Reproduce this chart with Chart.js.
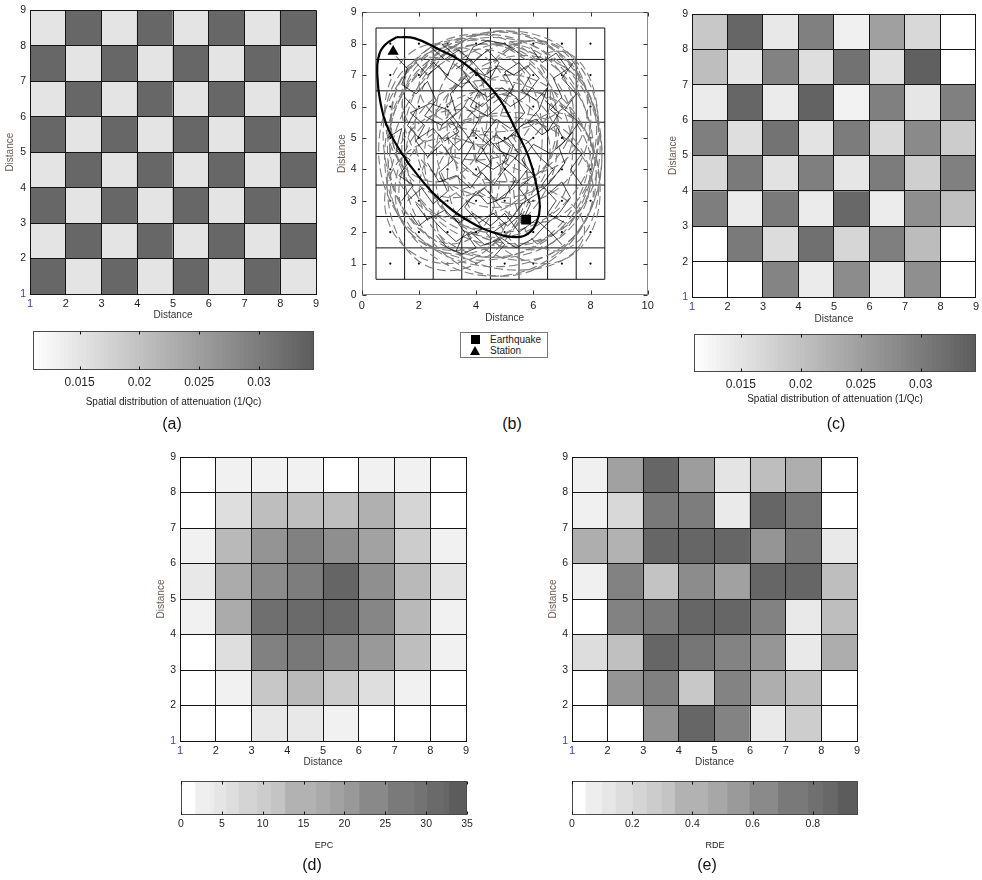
<!DOCTYPE html>
<html>
<head>
<meta charset="utf-8">
<title>Attenuation tomography: checkerboard test, ray coverage, EPC and RDE</title>
<script src="https://cdn.jsdelivr.net/npm/chart.js@4.4.1/dist/chart.umd.min.js"></script>
<style>
  html, body { margin: 0; padding: 0; background: #fff; }
  #fig { position: relative; width: 982px; height: 880px; overflow: hidden;
         font-family: "Liberation Sans", Arial, sans-serif; }
  #fig canvas { position: absolute; }
  .tag { position: absolute; font-size: 16px; color: #111; transform: translate(-50%, -50%); white-space: nowrap; }
  #legendB { position: absolute; left: 460px; top: 332px; width: 86px; height: 24px;
             border: 1px solid #777; background: #fff; font-size: 10px; color: #222; }
  #legendB .sq { position: absolute; left: 10px; top: 2px; width: 9px; height: 9px; background: #000; }
  #legendB .tri { position: absolute; left: 9px; top: 13px; width: 0; height: 0;
                  border-left: 5.5px solid transparent; border-right: 5.5px solid transparent; border-bottom: 9px solid #000; }
  #legendB .lt { position: absolute; left: 29px; line-height: 12px; }
</style>
</head>
<body>
<div id="fig">
  <canvas id="cvA" width="330" height="325" style="left:0px;top:0px"></canvas>
  <canvas id="cvB" width="330" height="328" style="left:330px;top:0px"></canvas>
  <canvas id="cvC" width="322" height="328" style="left:660px;top:0px"></canvas>
  <canvas id="cbA" width="330" height="95" style="left:0px;top:320px"></canvas>
  <canvas id="cbC" width="322" height="95" style="left:660px;top:320px"></canvas>
  <canvas id="cvD" width="330" height="330" style="left:150px;top:445px"></canvas>
  <canvas id="cvE" width="330" height="330" style="left:545px;top:445px"></canvas>
  <canvas id="cbD" width="340" height="90" style="left:150px;top:770px"></canvas>
  <canvas id="cbE" width="340" height="90" style="left:545px;top:770px"></canvas>

  <div id="legendB">
    <span class="sq"></span><span class="lt" style="top:1px">Earthquake</span>
    <span class="tri"></span><span class="lt" style="top:12px">Station</span>
  </div>

  <div class="tag" style="left:172px;top:424px">(a)</div>
  <div class="tag" style="left:512px;top:424px">(b)</div>
  <div class="tag" style="left:836px;top:424px">(c)</div>
  <div class="tag" style="left:312px;top:865px">(d)</div>
  <div class="tag" style="left:707px;top:865px">(e)</div>
</div>

<script>
// ---------------------------------------------------------------------------
// Data. Grid rows are listed from the top row (Distance 8-9) down to the
// bottom row (Distance 1-2); columns run from Distance 1-2 to 8-9.
// ---------------------------------------------------------------------------
const distanceTicks = [1, 2, 3, 4, 5, 6, 7, 8, 9];

// (a) checkerboard input model, 1/Qc
const checkerRows = [
  [0.015, 0.033, 0.015, 0.033, 0.015, 0.033, 0.015, 0.033],
  [0.033, 0.015, 0.033, 0.015, 0.033, 0.015, 0.033, 0.015],
  [0.015, 0.033, 0.015, 0.033, 0.015, 0.033, 0.015, 0.033],
  [0.033, 0.015, 0.033, 0.015, 0.033, 0.015, 0.033, 0.015],
  [0.015, 0.033, 0.015, 0.033, 0.015, 0.033, 0.015, 0.033],
  [0.033, 0.015, 0.033, 0.015, 0.033, 0.015, 0.033, 0.015],
  [0.015, 0.033, 0.015, 0.033, 0.015, 0.033, 0.015, 0.033],
  [0.033, 0.015, 0.033, 0.015, 0.033, 0.015, 0.033, 0.015]
];

// (c) recovered attenuation, 1/Qc
const recoveredRows = [
  [0.0190, 0.0332, 0.0144, 0.0294, 0.0133, 0.0248, 0.0167, 0.0111],
  [0.0205, 0.0147, 0.0291, 0.0159, 0.0314, 0.0156, 0.0340, 0.0111],
  [0.0140, 0.0332, 0.0140, 0.0336, 0.0130, 0.0294, 0.0147, 0.0294],
  [0.0296, 0.0159, 0.0313, 0.0151, 0.0300, 0.0166, 0.0280, 0.0185],
  [0.0167, 0.0303, 0.0153, 0.0296, 0.0147, 0.0300, 0.0180, 0.0294],
  [0.0297, 0.0140, 0.0303, 0.0140, 0.0329, 0.0138, 0.0273, 0.0202],
  [0.0111, 0.0303, 0.0161, 0.0317, 0.0170, 0.0296, 0.0208, 0.0111],
  [0.0111, 0.0111, 0.0288, 0.0140, 0.0277, 0.0140, 0.0273, 0.0111]
];

// (d) EPC per cell
const epcRows = [
  [0,  3,  3,  3,  0,  3,  3, 0],
  [0,  7, 14, 14, 14, 17,  9, 0],
  [3, 15, 23, 27, 24, 20, 11, 3],
  [5, 18, 25, 28, 33, 24, 15, 6],
  [3, 18, 31, 32, 32, 26, 15, 3],
  [0,  7, 27, 29, 26, 22, 14, 3],
  [0,  3, 12, 15, 11,  7,  3, 0],
  [0,  0,  5,  5,  3,  0,  0, 0]
];

// (e) RDE per cell
const rdeRows = [
  [0.09, 0.55, 0.89, 0.57, 0.16, 0.38, 0.47, 0.00],
  [0.09, 0.23, 0.78, 0.76, 0.12, 0.89, 0.80, 0.00],
  [0.47, 0.45, 0.89, 0.89, 0.89, 0.62, 0.79, 0.13],
  [0.09, 0.73, 0.35, 0.67, 0.55, 0.89, 0.89, 0.38],
  [0.00, 0.73, 0.78, 0.89, 0.89, 0.73, 0.13, 0.38],
  [0.20, 0.37, 0.89, 0.80, 0.72, 0.61, 0.13, 0.48],
  [0.00, 0.62, 0.74, 0.32, 0.72, 0.47, 0.37, 0.00],
  [0.00, 0.00, 0.64, 0.89, 0.72, 0.13, 0.29, 0.00]
];

// colour-bar ranges and tick labels
const attenRange = [0.0111, 0.0346];
const attenTicks = [0.015, 0.02, 0.025, 0.03];
const epcRange = [0, 35];
const epcTicks = [0, 5, 10, 15, 20, 25, 30, 35];
const epcBandEdges = [1.7, 3.5, 4.0, 5.5, 7.0, 9.3, 11.0, 12.7, 16.5, 18.2, 19.9, 21.8, 25.3, 28.5, 30.1, 32.1, 32.8, 35];
const rdeRange = [0, 0.95];
const rdeTicks = [0, 0.2, 0.4, 0.6, 0.8];
const rdeBandEdges = [0.044, 0.098, 0.144, 0.20, 0.247, 0.297, 0.341, 0.451, 0.515, 0.589, 0.683, 0.783, 0.833, 0.882, 0.95];

// (b) ray coverage
const coverageXTicks = [0, 2, 4, 6, 8, 10];
const coverageYTicks = [0, 1, 2, 3, 4, 5, 6, 7, 8, 9];
const cellEdges = [0.5, 1.5, 2.5, 3.5, 4.5, 5.5, 6.5, 7.5, 8.5];
const nodePositions = [1, 2, 3, 4, 5, 6, 7, 8];
const station = [{ x: 1.1, y: 7.75 }];
const earthquake = [{ x: 5.75, y: 2.4 }];
// single-scattering ellipse around the station-earthquake pair
const sampleEllipse = [
  [1.22, 8.21], [1.86, 8.17], [2.74, 7.80], [3.50, 7.43], [4.25, 6.85], [4.84, 6.21],
  [5.36, 5.31], [5.83, 4.41], [6.12, 3.45], [6.23, 2.81], [6.12, 2.33], [5.83, 1.96],
  [5.42, 1.84], [4.72, 1.96], [3.79, 2.33], [2.74, 3.03], [2.04, 3.72], [1.40, 4.51],
  [0.87, 5.41], [0.64, 6.21], [0.55, 6.95], [0.58, 7.54], [0.81, 7.96], [1.22, 8.21]
];
// other path ellipses (centre, semi-axes in distance units, tilt in degrees)
const ringCx   = [4.5, 4.8, 4.2, 5.2, 4.0, 5.5, 3.6, 5.0, 4.4, 5.8, 3.2, 4.6, 6.0, 3.0, 4.8, 5.2, 4.6, 2.8, 6.4, 4.2, 5.4, 4.4,
                  4.9, 4.3, 5.1, 3.9, 5.6, 4.7, 4.0, 6.1, 3.4, 5.0, 2.6, 6.8];
const ringCy   = [4.6, 4.2, 5.0, 4.8, 4.0, 5.5, 4.3, 3.5, 5.6, 4.0, 5.5, 4.6, 6.0, 3.0, 6.8, 2.2, 4.4, 4.6, 4.6, 3.6, 5.0, 6.0,
                  4.5, 4.7, 5.0, 5.2, 3.8, 3.3, 6.3, 5.2, 3.6, 5.8, 5.8, 3.6];
const ringRx   = [3.6, 3.3, 3.0, 2.8, 3.2, 2.5, 2.6, 3.0, 3.1, 2.4, 2.2, 2.0, 1.9, 2.2, 2.8, 2.6, 3.8, 2.0, 1.8, 1.6, 1.4, 1.5,
                  3.5, 3.7, 3.2, 2.8, 2.6, 3.4, 2.6, 2.2, 2.4, 2.4, 1.8, 1.5];
const ringRy   = [3.4, 2.6, 3.3, 3.0, 2.2, 2.6, 3.6, 2.3, 2.4, 3.1, 2.4, 1.8, 2.1, 2.0, 1.6, 1.4, 3.8, 3.0, 3.2, 1.5, 1.6, 1.2,
                  3.9, 3.6, 3.4, 2.9, 2.7, 2.4, 2.0, 2.9, 2.3, 2.2, 2.2, 2.2];
const ringTilt = [0, 20, -30, 40, -45, 10, 15, -10, 30, -20, 0, 50, 0, 25, -5, 5, 0, -10, 10, 0, 30, -20,
                  0, 10, -15, 35, 0, 0, 0, 0, 0, 15, 0, 0];
// scattered ray segments
const rayPaths = [
  [[1.2,7.6],[1.6,7.2],[1.4,6.7],[1.9,6.4],[2.3,6.8],[2.6,6.2],[2.2,5.7],[2.8,5.4],[3.3,5.8],[3.1,6.4],[3.6,6.9],[4.1,6.5],[3.8,6.0],[4.4,5.7],[4.9,6.1],[5.3,6.6],[5.0,7.1],[5.5,7.4],[5.9,7.0],[5.6,6.5],[6.1,6.2],[6.5,6.6],[6.2,5.9],[5.8,5.5],[6.3,5.1],[6.8,5.4],[7.1,4.9],[6.6,4.5],[6.0,4.8],[5.6,4.3],[6.0,3.8],[5.5,3.4],[5.9,2.9],[5.7,2.5]],
  [[1.6,3.0],[2.1,3.4],[2.5,2.9],[3.0,3.3],[2.7,3.9],[3.2,4.3],[2.8,4.8],[2.3,4.4],[1.9,4.9],[2.2,5.4],[1.7,5.8],[2.4,6.1],[3.0,5.9],[3.5,5.3],[3.9,4.8],[3.5,4.2],[4.0,3.8],[4.5,4.2],[4.2,4.7],[4.7,5.1],[5.2,4.7],[4.9,4.1],[5.4,3.7],[5.0,3.1],[4.4,2.9],[4.0,3.3],[3.6,2.8],[4.1,2.3],[4.6,2.6],[5.1,2.2],[5.6,2.6]],
  [[2.4,7.9],[2.9,7.5],[3.4,7.8],[3.9,7.4],[4.4,7.8],[4.8,7.4],[4.5,6.9],[4.0,7.1],[3.5,6.6],[3.0,6.9],[2.7,7.3],[2.3,7.0],[1.9,7.4]],
  [[6.5,3.2],[7.0,3.6],[7.3,3.1],[6.9,2.6],[6.4,2.2],[6.0,1.8],[5.4,1.5],[4.9,1.8],[4.3,1.6],[3.8,2.0],[3.3,1.7],[2.8,2.1],[2.4,2.5],[2.0,2.2],[1.7,2.6]],
  [[3.3,1.4],[3.6,2.0],[3.2,2.5],[3.7,3.0],[4.3,3.4],[4.7,3.0],[5.3,3.4],[5.8,4.0],[5.3,4.4],[4.8,4.6],[4.3,5.1],[4.7,5.6],[5.2,5.3],[5.7,5.8],[5.4,6.3],[4.9,6.6],[4.4,6.3],[3.9,6.6],[3.5,7.2],[3.9,7.9],[4.4,8.1],[5.0,8.0],[5.5,7.7]],
  [[7.4,7.4],[7.0,6.9],[7.5,6.4],[7.1,5.9],[7.6,5.5],[7.2,5.0],[7.7,4.5],[7.3,4.0],[7.7,3.5]],
  [[0.9,5.0],[1.4,5.3],[1.2,4.6],[1.7,4.3],[1.3,3.8],[1.8,3.5],[1.4,3.0]],
  [[2.0,6.9],[2.5,7.4],[3.0,7.0],[3.3,7.6],[2.8,8.0]],
  [[5.9,7.9],[6.3,7.4],[6.8,7.7],[7.2,7.2],[6.7,6.9],[7.0,6.3],[6.6,5.9],[7.0,5.6]],
  [[2.3,4.2],[2.7,3.6],[3.3,3.8],[3.8,3.4],[4.2,3.9],[4.6,3.5],[5.0,4.0],[5.5,4.5],[5.1,5.0],[5.6,5.4],[6.1,5.6],[6.5,5.2],[6.9,5.8],[6.4,6.2]],
  [[3.0,5.0],[3.4,4.6],[3.9,5.2],[4.4,4.8],[4.0,4.3],[4.6,4.0],[5.1,4.3],[4.7,4.8],[5.3,5.1],[5.8,4.9],[6.2,4.4],[6.7,4.0],[6.3,3.5],[6.8,3.0],[6.5,2.6],[7.1,2.3]],
  [[1.9,2.9],[2.3,2.4],[2.9,2.7],[3.4,2.3],[3.9,2.6],[4.5,2.2],[5.0,2.6],[5.5,2.0],[6.1,2.4],[6.6,2.0],[7.0,1.6]],
  [[3.7,6.3],[4.2,6.0],[4.7,6.4],[5.2,6.0],[5.7,6.3],[6.2,6.9],[5.8,7.3],[5.3,7.0],[4.8,7.3],[4.3,7.0],[3.8,7.5],[3.3,7.2]],
  [[1.5,6.3],[1.9,5.9],[1.6,5.4],[2.0,5.0],[2.5,5.3],[2.9,4.9],[3.4,5.2],[3.1,5.6],[3.6,6.0],[4.1,5.6],[3.8,5.1]],
  [[4.6,1.2],[5.0,1.6],[4.6,2.0],[5.2,2.4],[5.6,2.9],[6.1,3.2],[6.6,3.6],[7.1,4.2],[6.9,4.7],[7.4,5.2]],
  [[2.6,1.9],[3.0,1.5],[3.5,1.3],[4.0,1.5],[3.7,1.9],[4.2,2.1]]
];

// ---------------------------------------------------------------------------
// Styling helpers
// ---------------------------------------------------------------------------
const FONT = '"Liberation Sans", Arial, sans-serif';
Chart.defaults.font.family = FONT;
Chart.defaults.color = '#222';
Chart.defaults.plugins.legend.display = false;
Chart.defaults.plugins.tooltip.enabled = false;

const LINE = '#151515';
const YTITLE = '#6e5a55';

// reversed gray colormap: white at the low end, dark gray at the high end
function grayOf(v, range) {
  const t = Math.min(1, Math.max(0, (v - range[0]) / (range[1] - range[0])));
  const g = Math.round(255 - t * 163);
  return `rgb(${g},${g},${g})`;
}

const tickColor = c => (c.tick && c.tick.value === 1) ? '#3b3fa6' : '#1e1e1e';

// one floating-bar dataset per grid row
function cellDatasets(rows, range) {
  const n = rows.length;
  return rows.map((row, r) => {
    const y0 = distanceTicks[n - 1 - r];
    return {
      label: 'row ' + y0,
      grouped: false,
      borderWidth: 0,
      barPercentage: 1,
      categoryPercentage: 1,
      data: row.map((v, c) => ({ x: distanceTicks[c] + 0.5, y: [y0, y0 + 1] })),
      backgroundColor: row.map(v => grayOf(v, range))
    };
  });
}

function heatMap(id, rows, range, box) {
  return new Chart(document.getElementById(id), {
    type: 'bar',
    data: { datasets: cellDatasets(rows, range) },
    options: {
      responsive: false, devicePixelRatio: 1, animation: false,
      layout: { padding: { left: 0, top: box.top, right: box.right, bottom: 0 } },
      scales: {
        x: {
          type: 'linear', min: 1, max: 9, offset: false, stacked: true,
          afterBuildTicks: s => { s.ticks = distanceTicks.map(v => ({ value: v })); },
          ticks: { padding: 3, color: tickColor, font: { size: 11 }, maxRotation: 0, autoSkip: false },
          grid: { color: LINE, lineWidth: 1, z: 1, drawTicks: false, offset: false },
          border: { display: true, color: LINE, z: 1 },
          title: { display: true, text: 'Distance', color: '#333', font: { size: 10 },
                   padding: { top: 0, bottom: box.xTitlePad } },
          afterFit: s => { s.height = box.xh; }
        },
        y: {
          type: 'linear', min: 1, max: 9,
          afterBuildTicks: s => { s.ticks = distanceTicks.map(v => ({ value: v })); },
          ticks: { padding: box.yTickPad, color: tickColor, font: { size: 10.5 }, autoSkip: false },
          grid: { color: LINE, lineWidth: 1, z: 1, drawTicks: false },
          border: { display: true, color: LINE, z: 1 },
          title: { display: true, text: 'Distance', color: YTITLE, font: { size: 10 },
                   padding: { top: box.yTitlePad, bottom: 0 } },
          afterFit: s => { s.width = box.left; }
        }
      }
    }
  });
}

// box and short inner tick marks of a colour bar
const cbarFrame = {
  id: 'cbarFrame',
  afterDatasetsDraw(chart) {
    const { ctx, chartArea: a, scales: { x } } = chart;
    ctx.save();
    ctx.strokeStyle = '#4a4a4a';
    ctx.lineWidth = 1;
    const l = Math.round(a.left) + 0.5, t = Math.round(a.top) + 0.5;
    const r = Math.round(a.right) - 0.5, b = Math.round(a.bottom) - 0.5;
    ctx.strokeRect(l, t, r - l, b - t);
    ctx.strokeStyle = '#111';
    x.ticks.forEach(tk => {
      const px = Math.round(x.getPixelForValue(tk.value)) + 0.5;
      ctx.beginPath();
      ctx.moveTo(px, t); ctx.lineTo(px, t + 3);
      ctx.moveTo(px, b); ctx.lineTo(px, b - 3);
      ctx.stroke();
    });
    ctx.restore();
  }
};

// colour bar: each band is a floating bar from the range start to the band's upper edge;
// earlier datasets are painted last, so each band shows between its neighbours' edges
function colorBar(id, range, upperEdges, bandColors, ticks, fmt, title, box) {
  const datasets = upperEdges.map((u, k) => ({
    grouped: false, borderWidth: 0, barPercentage: 1, categoryPercentage: 1,
    data: [[range[0], u]],
    backgroundColor: bandColors[k]
  }));
  return new Chart(document.getElementById(id), {
    type: 'bar',
    data: { labels: [''], datasets },
    options: {
      indexAxis: 'y',
      responsive: false, devicePixelRatio: 1, animation: false,
      layout: { padding: { left: box.left, top: box.top, right: box.right, bottom: 0 } },
      scales: {
        y: { display: false, stacked: true },
        x: {
          type: 'linear', min: range[0], max: range[1], offset: false,
          afterBuildTicks: s => { s.ticks = ticks.map(v => ({ value: v })); },
          ticks: { padding: box.tickPad, font: { size: box.tickFont }, color: '#1e1e1e',
                   maxRotation: 0, autoSkip: false, callback: fmt },
          grid: { display: false, drawTicks: false },
          border: { display: false },
          title: { display: true, text: title, color: '#222', font: { size: box.titleFont },
                   padding: { top: 0, bottom: box.titlePad } },
          afterFit: s => { s.height = box.xh; }
        }
      }
    },
    plugins: [cbarFrame]
  });
}

// smooth 64-level ramp for the attenuation bars
function smoothBands(range) {
  const edges = [], colors = [];
  const n = 64, step = (range[1] - range[0]) / n;
  for (let k = 0; k < n; k++) {
    edges.push(range[0] + (k + 1) * step);
    colors.push(grayOf(range[0] + (k + 0.5) * step, range));
  }
  return { edges, colors };
}
function steppedColors(edges, range) {
  return edges.map((u, k) => k === 0 ? grayOf(range[0], range) : grayOf(u, range));
}

// ---------------------------------------------------------------------------
// (a), (c), (d), (e): cell maps
// ---------------------------------------------------------------------------
heatMap('cvA', checkerRows, attenRange,
  { top: 10, right: 14, left: 30, xh: 31, xTitlePad: 4, yTitlePad: 4, yTickPad: 4 });
heatMap('cvC', recoveredRows, attenRange,
  { top: 14, right: 5, left: 32, xh: 31, xTitlePad: 3, yTitlePad: 7, yTickPad: 4 });
heatMap('cvD', epcRows, epcRange,
  { top: 12, right: 14, left: 30, xh: 34, xTitlePad: 7, yTitlePad: 5, yTickPad: 4 });
heatMap('cvE', rdeRows, rdeRange,
  { top: 12, right: 18, left: 27, xh: 34, xTitlePad: 7, yTitlePad: 2, yTickPad: 4 });

const attenBands = smoothBands(attenRange);
const attenFmt = v => String(+(+v).toFixed(3));
const attenTitle = 'Spatial distribution of attenuation (1/Qc)';
colorBar('cbA', attenRange, attenBands.edges, attenBands.colors, attenTicks, attenFmt, attenTitle,
  { left: 33, right: 16, top: 11, xh: 45, tickPad: 5, tickFont: 12, titleFont: 10, titlePad: 7 });
colorBar('cbC', attenRange, attenBands.edges, attenBands.colors, attenTicks, attenFmt, attenTitle,
  { left: 34, right: 6, top: 14, xh: 43, tickPad: 5, tickFont: 12, titleFont: 10, titlePad: 10 });
colorBar('cbD', epcRange, epcBandEdges, steppedColors(epcBandEdges, epcRange), epcTicks,
  v => String(Math.round(v)), 'EPC',
  { left: 31, right: 23, top: 11, xh: 45, tickPad: 3, tickFont: 10.5, titleFont: 9, titlePad: 9.5 });
colorBar('cbE', rdeRange, rdeBandEdges, steppedColors(rdeBandEdges, rdeRange), rdeTicks,
  v => (+v === 0 ? '0' : String(+(+v).toFixed(1))), 'RDE',
  { left: 27, right: 27, top: 11, xh: 45, tickPad: 3, tickFont: 10.5, titleFont: 9, titlePad: 9.5 });

// ---------------------------------------------------------------------------
// (b): ray coverage
// ---------------------------------------------------------------------------
const cellGridPts = [];
const e0 = cellEdges[0], e1 = cellEdges[cellEdges.length - 1];
cellEdges.forEach(e => { cellGridPts.push({ x: e, y: e0 }, { x: e, y: e1 }, { x: e, y: null }); });
cellEdges.forEach(e => { cellGridPts.push({ x: e0, y: e }, { x: e1, y: e }, { x: e1, y: null }); });

const nodePts = [];
nodePositions.forEach(i => nodePositions.forEach(j => nodePts.push({ x: i, y: j })));

const rayPts = [];
rayPaths.forEach(p => { p.forEach(([x, y]) => rayPts.push({ x, y })); rayPts.push({ x: p[p.length - 1][0], y: null }); });

// dashed path ellipses, painted right after the cell grid
const dashedRings = {
  id: 'dashedRings',
  afterDatasetDraw(chart, args) {
    if (chart.data.datasets[args.index].label !== 'Cells') return;
    const { ctx, scales: { x, y }, chartArea: a } = chart;
    ctx.save();
    ctx.beginPath(); ctx.rect(a.left, a.top, a.width, a.height); ctx.clip();
    ctx.strokeStyle = '#7c7c7c';
    ctx.lineWidth = 1.1;
    ctx.setLineDash([9, 4]);
    ringCx.forEach((cx, i) => {
      const px = x.getPixelForValue(cx), py = y.getPixelForValue(ringCy[i]);
      const rx = Math.abs(x.getPixelForValue(cx + ringRx[i]) - px);
      const ry = Math.abs(y.getPixelForValue(ringCy[i] + ringRy[i]) - py);
      ctx.lineDashOffset = i * 3;
      ctx.beginPath();
      ctx.ellipse(px, py, rx, ry, ringTilt[i] * Math.PI / 180, 0, Math.PI * 2);
      ctx.stroke();
    });
    ctx.restore();
  }
};

// full axes box with inward tick marks
const boxFrame = {
  id: 'boxFrame',
  afterDraw(chart) {
    const { ctx, chartArea: a, scales: { x, y } } = chart;
    ctx.save();
    ctx.strokeStyle = '#8a8a8a';
    ctx.lineWidth = 1;
    const l = Math.round(a.left) + 0.5, t = Math.round(a.top) + 0.5;
    const r = Math.round(a.right) - 0.5, b = Math.round(a.bottom) - 0.5;
    ctx.strokeRect(l, t, r - l, b - t);
    ctx.strokeStyle = '#333';
    ctx.beginPath();
    x.ticks.forEach(tk => {
      const px = Math.round(x.getPixelForValue(tk.value)) + 0.5;
      ctx.moveTo(px, b); ctx.lineTo(px, b - 4);
      ctx.moveTo(px, t); ctx.lineTo(px, t + 4);
    });
    y.ticks.forEach(tk => {
      const py = Math.round(y.getPixelForValue(tk.value)) + 0.5;
      ctx.moveTo(l, py); ctx.lineTo(l + 4, py);
      ctx.moveTo(r, py); ctx.lineTo(r - 4, py);
    });
    ctx.stroke();
    ctx.restore();
  }
};

new Chart(document.getElementById('cvB'), {
  type: 'scatter',
  data: {
    datasets: [
      { label: 'Earthquake', data: earthquake, order: 0, pointStyle: 'rect', pointRadius: 7,
        backgroundColor: '#000', borderColor: '#000', borderWidth: 0 },
      { label: 'Station', data: station, order: 0, pointStyle: 'triangle', pointRadius: 6.5,
        backgroundColor: '#000', borderColor: '#000', borderWidth: 0 },
      { label: 'Sampling ellipse', data: sampleEllipse.map(([x, y]) => ({ x, y })), order: 1,
        showLine: true, tension: 0.45, borderColor: '#000', borderWidth: 2.2, pointRadius: 0 },
      { label: 'Ray paths', data: rayPts, order: 2, showLine: true, spanGaps: false,
        borderColor: 'rgba(0,0,0,0.9)', borderWidth: 0.8, pointRadius: 0 },
      { label: 'Cells', data: cellGridPts, order: 3, showLine: true, spanGaps: false,
        borderColor: '#111', borderWidth: 1, pointRadius: 0 },
      { label: 'Nodes', data: nodePts, order: 4, pointRadius: 1.1,
        backgroundColor: '#000', borderWidth: 0 }
    ]
  },
  options: {
    responsive: false, devicePixelRatio: 1, animation: false,
    layout: { padding: { left: 0, top: 12.3, right: 12.3, bottom: 0 } },
    scales: {
      x: {
        type: 'linear', min: 0, max: 10,
        afterBuildTicks: s => { s.ticks = coverageXTicks.map(v => ({ value: v })); },
        ticks: { padding: 4, font: { size: 11 }, color: '#1e1e1e', maxRotation: 0, autoSkip: false },
        grid: { display: false, drawTicks: false },
        border: { display: false },
        title: { display: true, text: 'Distance', color: '#333', font: { size: 10 }, padding: { top: 0, bottom: 3.3 } },
        afterFit: s => { s.height = 33; }
      },
      y: {
        type: 'linear', min: 0, max: 9,
        afterBuildTicks: s => { s.ticks = coverageYTicks.map(v => ({ value: v })); },
        ticks: { padding: 5, font: { size: 10.5 }, color: '#1e1e1e', autoSkip: false },
        grid: { display: false, drawTicks: false },
        border: { display: false },
        title: { display: true, text: 'Distance', color: YTITLE, font: { size: 10 }, padding: { top: 6.5, bottom: 0 } },
        afterFit: s => { s.width = 31.7; }
      }
    }
  },
  plugins: [dashedRings, boxFrame]
});
</script>
</body>
</html>
